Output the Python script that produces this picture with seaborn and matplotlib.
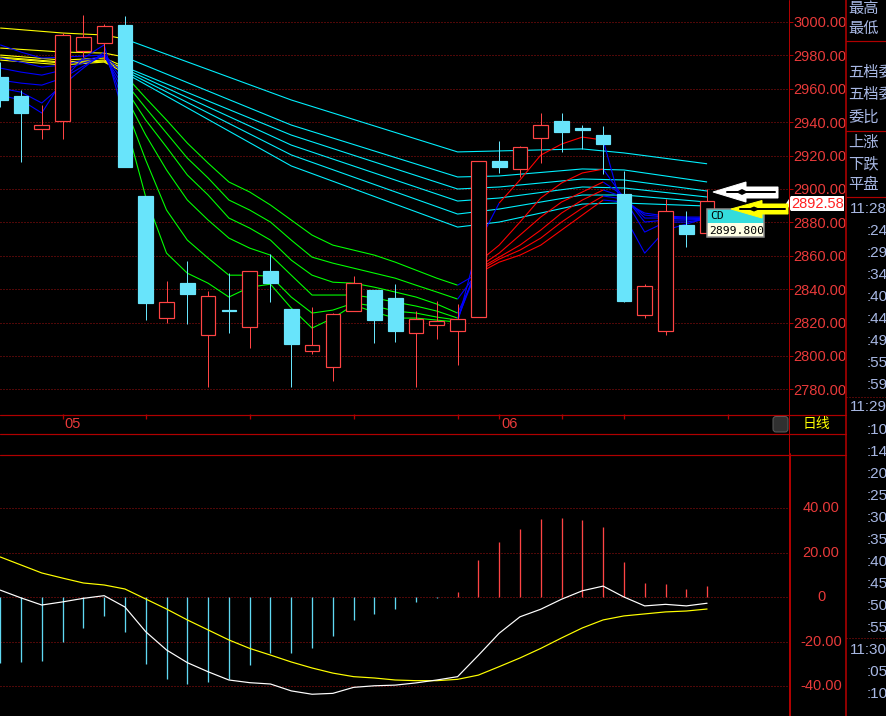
import numpy as np
import pandas as pd
import matplotlib
matplotlib.use("Agg")
import matplotlib.pyplot as plt
import seaborn as sns
from matplotlib.patches import Polygon, Rectangle, FancyBboxPatch

# ---------------- data ----------------
candle_idx = list(range(35))
opens = [2967.1, 2955.7, 2935.9, 2940.7, 2982.6, 2987.4, 2998.2, 2895.8, 2822.8, 2843.7,
         2812.6, 2827.5, 2817.4, 2850.9, 2828.1, 2803.0, 2793.4, 2826.9, 2839.5, 2834.7,
         2813.8, 2818.6, 2815.0, 2823.4, 2916.8, 2912.0, 2930.5, 2940.7, 2936.0, 2932.3,
         2897.0, 2824.6, 2815.0, 2878.4, 2873.6]
highs = [2976.0, 2959.3, 2950.3, 2993.4, 3004.2, 2998.8, 3003.6, 2895.8, 2844.9, 2856.9,
         2838.9, 2849.7, 2850.9, 2861.1, 2828.1, 2829.3, 2826.0, 2847.9, 2839.5, 2843.1,
         2826.9, 2832.9, 2831.1, 2916.8, 2928.7, 2925.7, 2945.5, 2945.5, 2938.3, 2937.7,
         2910.8, 2843.1, 2894.0, 2886.8, 2900.0]
lows = [2949.1, 2916.2, 2929.9, 2929.9, 2979.0, 2977.2, 2913.2, 2821.6, 2819.8, 2819.2,
        2781.4, 2813.8, 2804.8, 2832.3, 2781.4, 2801.2, 2785.0, 2826.9, 2807.8, 2808.4,
        2781.4, 2810.2, 2794.6, 2823.4, 2909.6, 2907.2, 2915.6, 2922.2, 2924.0, 2909.0,
        2832.3, 2822.8, 2812.6, 2865.3, 2873.6]
closes = [2953.3, 2945.5, 2938.3, 2992.2, 2991.0, 2997.6, 2913.2, 2831.7, 2832.3, 2837.1,
          2835.9, 2827.0, 2850.9, 2843.7, 2807.2, 2806.6, 2825.2, 2843.7, 2821.6, 2815.0,
          2822.2, 2821.0, 2822.2, 2916.8, 2913.2, 2925.2, 2938.3, 2934.1, 2935.6, 2926.9,
          2832.9, 2841.9, 2886.8, 2873.0, 2892.58]
price_ticks = [2780, 2800, 2820, 2840, 2860, 2880, 2900, 2920, 2940, 2960, 2980, 3000]

# long-term averages (read at selected candles)
ma_long_idx = [0, 3, 5, 6, 14, 22, 24, 28, 30, 34]
ma_long_1 = [2996.4, 2993.4, 2992.2, 2989.8, 2953.3, 2922.2, 2922.8, 2924.0, 2921.6, 2915.1]
ma_long_2 = [2984.4, 2982.0, 2981.4, 2979.0, 2938.3, 2907.2, 2907.8, 2912.0, 2911.4, 2904.2]
ma_long_3 = [2980.2, 2977.2, 2978.4, 2973.1, 2932.3, 2900.0, 2901.2, 2906.0, 2905.4, 2898.8]
ma_long_4 = [2979.0, 2976.0, 2977.2, 2971.9, 2926.3, 2892.8, 2894.6, 2901.2, 2900.6, 2895.2]
ma_long_5 = [2978.4, 2975.4, 2976.6, 2970.7, 2920.4, 2885.0, 2888.0, 2896.4, 2896.4, 2892.2]
ma_long_6 = [2977.2, 2974.3, 2976.0, 2969.5, 2913.8, 2877.2, 2880.2, 2891.0, 2891.6, 2889.8]

# short-term averages (every candle)
ma_short_1 = [2956.2, 2953.3, 2945.5, 2965.2, 2978.4, 2986.3, 2941.3, 2895.2, 2861.6, 2849.6,
              2843.6, 2835.3, 2841.2, 2843.0, 2828.7, 2816.7, 2822.7, 2830.5, 2826.3, 2822.7,
              2822.7, 2821.5, 2820.3, 2867.6, 2891.6, 2905.4, 2920.3, 2926.9, 2931.1, 2929.3,
              2884.4, 2861.6, 2875.4, 2879.0, 2882.6]
ma_short_2 = [2960.4, 2958.0, 2951.5, 2962.2, 2972.4, 2982.0, 2950.3, 2917.3, 2887.4, 2869.4,
              2858.6, 2848.4, 2848.4, 2847.8, 2835.3, 2825.7, 2827.5, 2831.7, 2829.9, 2826.9,
              2825.7, 2823.3, 2821.5, 2856.2, 2866.4, 2880.2, 2894.6, 2903.6, 2909.6, 2911.9,
              2894.6, 2874.2, 2880.2, 2880.2, 2882.0]
ma_short_3 = [2965.2, 2963.4, 2962.2, 2966.4, 2973.6, 2980.2, 2956.2, 2932.3, 2911.4, 2893.4,
              2881.4, 2870.6, 2864.6, 2860.4, 2848.4, 2836.5, 2836.5, 2836.5, 2834.7, 2832.3,
              2829.9, 2826.9, 2822.7, 2853.2, 2861.6, 2872.4, 2883.2, 2892.2, 2898.2, 2904.2,
              2895.8, 2880.2, 2881.4, 2881.4, 2882.0]
ma_short_4 = [2972.4, 2970.0, 2968.2, 2971.2, 2975.4, 2979.6, 2960.4, 2941.3, 2925.1, 2908.4,
              2896.4, 2882.6, 2876.6, 2869.4, 2857.4, 2848.4, 2844.2, 2843.6, 2841.2, 2838.3,
              2835.3, 2831.1, 2825.7, 2852.0, 2859.2, 2866.4, 2875.4, 2885.6, 2893.4, 2899.4,
              2895.2, 2882.6, 2882.6, 2882.0, 2882.6]
ma_short_5 = [2978.4, 2976.0, 2973.0, 2974.2, 2977.2, 2979.6, 2964.0, 2948.5, 2933.5, 2918.5,
              2906.6, 2893.4, 2887.4, 2880.2, 2869.4, 2859.2, 2855.6, 2852.6, 2849.6, 2846.6,
              2842.4, 2838.3, 2834.1, 2850.8, 2858.0, 2863.4, 2870.6, 2880.2, 2888.6, 2895.8,
              2894.0, 2884.4, 2883.2, 2882.6, 2882.6]
ma_short_6 = [2986.3, 2982.0, 2978.4, 2979.0, 2979.6, 2980.2, 2968.2, 2954.5, 2941.3, 2927.5,
              2915.5, 2904.2, 2898.2, 2890.4, 2881.4, 2872.4, 2866.4, 2863.4, 2860.4, 2856.2,
              2851.4, 2846.6, 2842.4, 2849.6, 2856.2, 2860.4, 2866.4, 2875.4, 2884.4, 2893.4,
              2892.2, 2885.6, 2883.8, 2883.2, 2883.2]

# MACD
macd_hist = [-29.7, -29.2, -28.8, -20.2, -13.9, -8.5, -15.7, -30.1, -36.9, -39.1,
             -38.2, -36.9, -30.6, -25.2, -25.2, -22.9, -17.5, -10.3, -7.6, -5.4,
             -2.2, -0.4, 2.2, 16.6, 24.7, 30.6, 35.1, 35.5, 34.6, 31.5,
             15.7, 6.3, 5.8, 3.6, 4.9]
macd_dif = [3.1, -0.4, -3.6, -2.2, -0.6, 0.6, -4.5, -15.6, -23.8, -29.5,
            -33.6, -37.3, -38.5, -39.1, -42.2, -43.7, -43.3, -40.6, -39.9, -39.6,
            -38.6, -37.3, -35.8, -26.2, -16.3, -8.9, -5.5, -1.0, 2.8, 4.9,
            0.0, -4.0, -3.3, -4.0, -2.8]
macd_dea = [18.0, 14.4, 10.8, 8.5, 6.3, 5.4, 3.6, -0.9, -5.4, -10.3,
            -14.8, -19.3, -23.1, -26.1, -29.2, -31.9, -34.2, -35.8, -36.4, -37.3,
            -37.6, -37.6, -37.0, -35.1, -31.3, -27.4, -23.1, -18.4, -13.9, -10.3,
            -8.5, -7.6, -6.7, -6.3, -5.4]
macd_ticks = [40, 20, 0, -20, -40]
macd_tick_labels = ["40.00", "20.00", "0", "-20.00", "-40.00"]

date_tick_idx = [3, 7, 12, 17, 22, 24, 27, 30, 35]
date_label_idx = [3, 24]
date_labels = ["05", "06"]

panel_labels = ["最高", "最低", "五档委", "五档委", "委比", "上涨", "下跌", "平盘"]
time_labels = ["11:28", ":24", ":29", ":34", ":40", ":44", ":49", ":55", ":59",
               "11:29", ":10", ":14", ":20", ":25", ":30", ":35", ":40", ":45", ":50", ":55",
               "11:30", ":05", ":10"]
last_price = 2892.58
cd_label = "CD"
cd_value = "2899.800"
period_label = "日线"

# ---------------- style ----------------
sns.set_theme(style="dark", rc={"axes.facecolor": "black", "figure.facecolor": "black"})
plt.rcParams['font.family'] = ['Liberation Sans', 'Noto Sans CJK SC', 'DejaVu Sans']

PX = 0.72
W, H = 886, 716
BG = "black"
FRAME = "#b00000"
GRID = "#a01010"
LABEL_RED = "#e83a3a"
CAND_RED = "#ff4444"
CAND_CYAN = "#68e4fb"
HIST_CYAN = "#5fd8f2"
BLUE, GREEN, RED, CYAN, YELLOW = "#0000ff", "#00ff00", "#ff0000", "#00f0ff", "#ffff00"
PANEL_TXT = "#a8b8e4"
DOTS = (0, (1, 2))

X0, X1 = -0.0096, 37.94

fig = plt.figure(figsize=(W / 100, H / 100), dpi=100, facecolor=BG)


def frame(x0, y0, x1, y1):
    return [x0 / W, 1 - y1 / H, (x1 - x0) / W, (y1 - y0) / H]


# ---------------- main price panel ----------------
ax = fig.add_axes(frame(0, 0, 789, 414))
ax.set_facecolor(BG)
ax.set_xlim(X0, X1)
ax.set_ylim(2765.27, 3013.17)
for v in price_ticks:
    ax.axhline(v, color=GRID, lw=PX, ls=DOTS, zorder=1)


def seg_plot(axis, xs, ys, runs):
    for a, b, col in runs:
        axis.plot(xs[a:b + 1], ys[a:b + 1], color=col, lw=PX * 1.1, zorder=2,
                  solid_capstyle='butt')


long_runs = [(0, 3, YELLOW), (3, 9, CYAN)]
for ys in [ma_long_6, ma_long_5, ma_long_4, ma_long_3, ma_long_2, ma_long_1]:
    seg_plot(ax, ma_long_idx, ys, long_runs)

short_runs = [(0, 6, BLUE), (6, 22, GREEN), (22, 23, BLUE), (23, 29, RED), (29, 34, BLUE)]
short1_runs = [(0, 6, BLUE), (6, 22, GREEN), (22, 24, BLUE), (24, 29, RED), (29, 34, BLUE)]
for ys in [ma_short_6, ma_short_5, ma_short_4, ma_short_3, ma_short_2]:
    seg_plot(ax, candle_idx, ys, short_runs)
seg_plot(ax, candle_idx, ma_short_1, short1_runs)

cdf = pd.DataFrame(dict(i=candle_idx, o=opens, h=highs, l=lows, c=closes))
up = (cdf.c >= cdf.o).values
ccol = np.where(up, CAND_RED, CAND_CYAN)
ax.vlines(cdf.i, cdf.l, cdf.h, colors=ccol, lw=PX, zorder=3)
body_bottom = np.minimum(cdf.o, cdf.c)
body_h = np.maximum(np.abs(cdf.c - cdf.o), 0.7)
ax.bar(cdf.i, body_h, bottom=body_bottom, width=0.707,
       color=np.where(up, BG, CAND_CYAN), edgecolor=ccol, linewidth=PX * 1.2, zorder=4)

ax.yaxis.tick_right()
ax.set_yticks(price_ticks)
ax.set_yticklabels([f"{v:.2f}" for v in price_ticks])
ax.tick_params(axis='y', length=4 * PX, width=PX, color=FRAME, labelcolor=LABEL_RED,
               labelsize=10.5, pad=0.5)
ax.set_xticks([])
for s in ax.spines.values():
    s.set_visible(False)
ax.grid(False)

# ---------------- date strip ----------------
dx = fig.add_axes(frame(0, 414, 789, 433))
dx.set_facecolor(BG)
dx.set_xlim(X0, X1)
dx.set_ylim(0, 1)
dx.vlines(date_tick_idx, 0.72, 1.0, color=FRAME, lw=PX * 1.3)
for i, lab in zip(date_label_idx, date_labels):
    dx.text(i + 0.1, 0.47, lab, ha='left', va='center', color=LABEL_RED, fontsize=10.5)
dx.set_xticks([]); dx.set_yticks([])
for s in dx.spines.values():
    s.set_visible(False)

# ---------------- MACD panel ----------------
mx = fig.add_axes(frame(0, 454, 789, 716))
mx.set_facecolor(BG)
mx.set_xlim(X0, X1)
mx.set_ylim(-53.48, 64.27)
for v in macd_ticks:
    mx.axhline(v, color=GRID, lw=PX, ls=DOTS, zorder=1)
hist = np.array(macd_hist)
mx.vlines(candle_idx, 0, hist, colors=np.where(hist > 0, CAND_RED, HIST_CYAN),
          lw=PX * 1.3, zorder=2)
mdf = pd.DataFrame(dict(i=candle_idx, dif=macd_dif, dea=macd_dea))
sns.lineplot(data=mdf, x='i', y='dea', color=YELLOW, lw=PX * 1.2, ax=mx, zorder=3)
sns.lineplot(data=mdf, x='i', y='dif', color='white', lw=PX * 1.2, ax=mx, zorder=4)
mx.set_xlabel(''); mx.set_ylabel('')
mx.set_xticks([]); mx.set_yticks([])
for s in mx.spines.values():
    s.set_visible(False)
mtrans = mx.get_yaxis_transform()
for v, lab in zip(macd_ticks, macd_tick_labels):
    mx.text(821 / 789, v, lab, transform=mtrans, ha='center', va='center',
            color=LABEL_RED, fontsize=10.5, clip_on=False)

# ---------------- overlay (frames, side panel, annotations) ----------------
ov = fig.add_axes([0, 0, 1, 1], zorder=10)
ov.set_xlim(0, W)
ov.set_ylim(H, 0)
ov.axis('off')
ov.patch.set_alpha(0)

ov.plot([789.5, 789.5], [0, 454], color=FRAME, lw=PX)
ov.plot([790.5, 790.5], [454, 716], color=FRAME, lw=2 * PX)
ov.plot([846.5, 846.5], [0, 716], color=FRAME, lw=1.6 * PX)
for yy in [414.5, 433.5, 454.5]:
    ov.plot([0, 846], [yy, yy], color=FRAME, lw=PX * 1.2)
for yy in [40.5, 130.5, 196.5]:
    ov.plot([846, 886], [yy, yy], color=FRAME, lw=PX * 1.2)
for yy in [396.5, 637.5]:
    ov.plot([846, 886], [yy, yy], color=GRID, lw=PX, ls=DOTS)

ov.text(821, 722, "-60.00", ha='center', va='center', color=LABEL_RED, fontsize=10.5)

# side panel labels
for lab, yy in zip(panel_labels, [8, 28, 73, 95, 117, 142, 164, 185]):
    ov.text(848, yy, lab, ha='left', va='center', color=PANEL_TXT, fontsize=11,
            family=['Noto Sans CJK SC', 'DejaVu Sans'])
for k, lab in enumerate(time_labels):
    xx = 850 if lab.startswith("11") else 867
    ov.text(xx, 209 + 22.05 * k, lab, ha='left', va='center', color=PANEL_TXT, fontsize=11)

# period button and label
ov.add_patch(FancyBboxPatch((773, 416.5), 15, 15.5, boxstyle='round,pad=0,rounding_size=3',
                            fc='#303030', ec='#5c5c5c', lw=PX))
ov.text(803, 424, period_label, ha='left', va='center', color=YELLOW, fontsize=10,
        family=['Noto Sans CJK SC', 'DejaVu Sans'])

# last price tag
ov.add_patch(Polygon([(786, 203.5), (791, 196), (844, 196), (844, 211), (791, 211)],
                     closed=True, fc='white', ec='none'))
ov.text(818, 203.5, f"{last_price:.2f}", ha='center', va='center', color='#ff2020',
        fontsize=10.5)

# CD tooltip
ov.add_patch(Rectangle((707, 209), 57, 14, fc='#34dcdc', ec='none'))
ov.add_patch(Rectangle((707, 223), 57, 14, fc='#ffffe4', ec='none'))
ov.add_patch(Rectangle((707, 209), 57, 28, fill=False, ec='#8c8c8c', lw=PX * 1.5))
ov.text(710, 216, cd_label, ha='left', va='center', color='black', fontsize=8.2,
        family='DejaVu Sans Mono')
ov.text(709, 230.5, cd_value, ha='left', va='center', color='black', fontsize=8.2,
        family='DejaVu Sans Mono')

# hand-drawn arrows
ov.add_patch(Polygon([(713, 192), (746, 182), (746, 187), (778, 187), (778, 198),
                      (746, 198), (746, 202)], closed=True, fc='white', ec='white', lw=PX))
ov.plot([727, 775], [192, 192], color='black', lw=2 * PX)
ov.add_patch(Polygon([(736, 192), (742, 189), (748, 192), (742, 195)], closed=True,
                     fc='black', ec='none'))
ov.add_patch(Polygon([(731, 209), (762, 200.5), (762, 204), (788, 204), (788, 214),
                      (762, 214), (762, 218)], closed=True, fc=YELLOW, ec=YELLOW, lw=PX))
ov.plot([740, 785], [209, 209], color='black', lw=2 * PX)
ov.add_patch(Polygon([(748, 209), (754, 206.5), (760, 209), (754, 211.5)], closed=True,
                     fc='black', ec='none'))

fig.savefig("out.png", dpi=100, facecolor=BG)
